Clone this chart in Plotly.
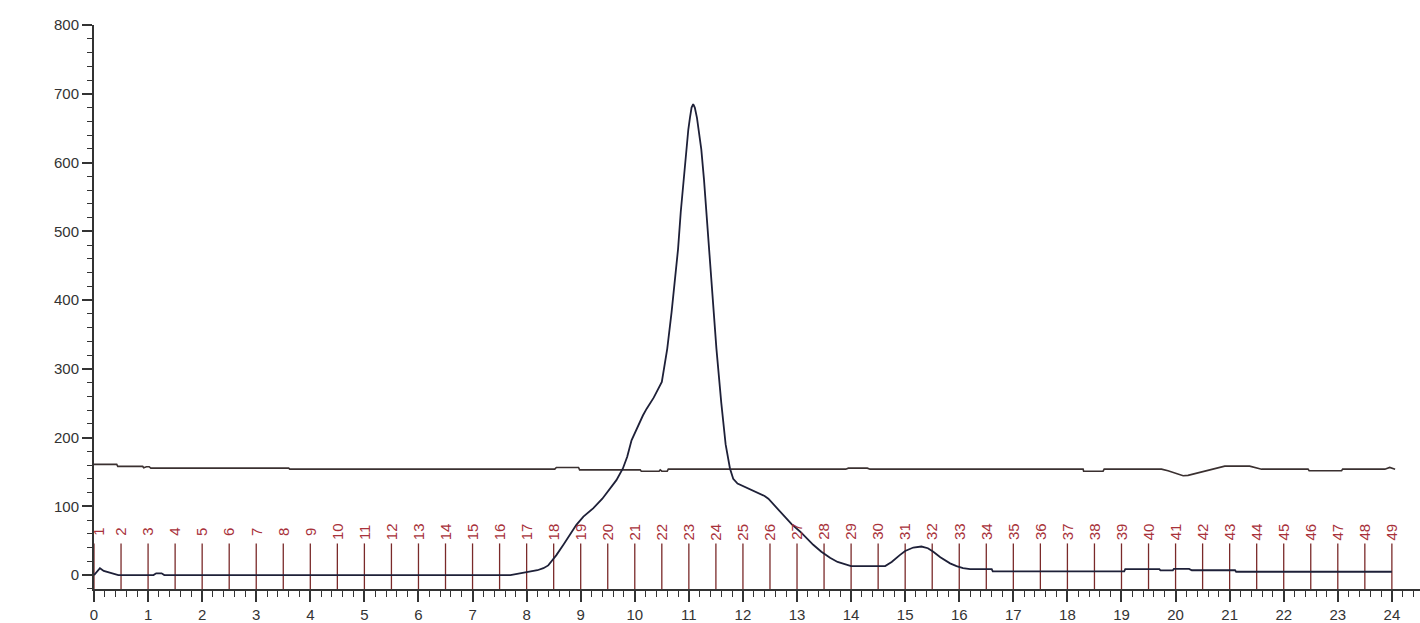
import plotly.graph_objects as go

# UV absorbance trace (mAU) vs elution volume (mL)
uv_x = [0, 0.05, 0.11, 0.18, 0.27, 0.36, 0.45, 1.1, 1.15, 1.25, 1.3, 7.7, 7.85, 8.0, 8.2, 8.31,
        8.4, 8.46, 8.55, 8.68, 8.8, 8.92, 9.05, 9.23, 9.4, 9.54, 9.66, 9.78, 9.86, 9.94, 10.06,
        10.15, 10.22, 10.35, 10.5, 10.55, 10.6, 10.68, 10.74, 10.8, 10.85, 10.9, 10.95, 10.99,
        11.02, 11.05, 11.08, 11.11, 11.15, 11.18, 11.23, 11.28, 11.37, 11.44, 11.51, 11.6,
        11.68, 11.76, 11.82, 11.9, 11.98, 12.08, 12.19, 12.3, 12.4, 12.47, 12.6, 12.75, 12.9,
        13.06, 13.18, 13.3, 13.45, 13.61, 13.75, 13.92, 14.0, 14.63, 14.75, 14.9, 15.0, 15.15,
        15.3, 15.42, 15.52, 15.65, 15.83, 15.95, 16.07, 16.2, 16.6, 16.62, 19.05, 19.07, 19.7,
        19.72, 19.95, 19.97, 20.25, 20.3, 21.1, 21.12, 24.0]
uv_y = [0, 5, 10, 6, 4, 1, 0, 0, 2.5, 2.5, 0, 0, 2, 4, 7, 10,
        14, 20, 29, 44, 59, 73, 85, 97, 111, 126, 138, 155, 172, 196, 218,
        232, 242, 258, 281, 303, 329, 382, 425, 474, 528, 575, 619, 648,
        665, 680, 685, 680, 665, 648, 619, 575, 474, 400, 329, 250,
        190, 155, 140, 133, 130, 127, 123, 119, 115, 111, 100, 87, 74,
        63, 53, 44, 34, 25, 19, 15, 13, 13, 19, 29, 35, 40,
        41.5, 39, 34, 26, 17, 13, 10, 8.7, 8.7, 5.3, 5.3, 8.7, 8.7,
        6.8, 6.8, 9, 9, 7, 7, 4.8, 4.8]

# Conductivity trace
cond_x = [0, 0.42, 0.44, 0.9, 0.92, 0.97, 1.02, 1.05, 3.6, 3.62, 8.52, 8.55, 8.96, 8.98,
          10.1, 10.12, 10.45, 10.47, 10.5, 10.6, 10.62, 13.9, 13.95, 14.3, 14.35, 18.29, 18.3,
          18.66, 18.68, 19.74, 19.86, 19.99, 20.14, 20.23, 20.45, 20.7, 20.91, 21.37, 21.59,
          22.45, 22.47, 23.07, 23.09, 23.87, 23.96, 24.06]
cond_y = [161, 161, 158, 158, 156, 157.5, 157.5, 155.5, 155.5, 154, 154, 156.5, 156.5, 153,
          153, 151, 151, 153, 151, 151, 154, 154, 155.5, 155.5, 154, 154, 151,
          151, 154, 154, 151.7, 148, 144.5, 145, 149, 154, 158.4, 158.4, 154,
          154, 151.7, 151.7, 154, 154, 156.5, 154]

# Fraction markers
frac_x = [0, 0.5, 1, 1.5, 2, 2.5, 3, 3.5, 4, 4.5, 5, 5.5, 6, 6.5, 7, 7.5, 8, 8.5, 9, 9.5,
          10, 10.5, 11, 11.5, 12, 12.5, 13, 13.5, 14, 14.5, 15, 15.5, 16, 16.5, 17, 17.5,
          18, 18.5, 19, 19.5, 20, 20.5, 21, 21.5, 22, 22.5, 23, 23.5, 24]
frac_labels = [str(i) for i in range(1, 50)]
frac_bottom = -20.3
frac_top = 46
frac_label_y = 63

x_tickvals = list(range(0, 25))
y_tickvals = [0, 100, 200, 300, 400, 500, 600, 700, 800]

FONT = "Liberation Sans Narrow, Arial Narrow, Liberation Sans, Arial, sans-serif"
MARK_COLOR = "#7a2a2a"
LABEL_COLOR = "#a8323a"

fig = go.Figure()

mx, my = [], []
for fx in frac_x:
    mx += [fx, fx, None]
    my += [frac_bottom, frac_top, None]
fig.add_trace(go.Scatter(x=mx, y=my, mode="lines",
                         line=dict(color=MARK_COLOR, width=1.3),
                         hoverinfo="skip", showlegend=False, cliponaxis=False))

fig.add_trace(go.Scatter(x=cond_x, y=cond_y, mode="lines",
                         line=dict(color="#3a3030", width=1.6), showlegend=False))
fig.add_trace(go.Scatter(x=uv_x, y=uv_y, mode="lines",
                         line=dict(color="#1e2038", width=1.8), showlegend=False))

for i, (fx, lab) in enumerate(zip(frac_x, frac_labels)):
    fig.add_annotation(x=fx, y=frac_label_y, xref="x", yref="y", text=lab,
                       showarrow=False, textangle=-90, xshift=(5 if i == 0 else 0),
                       font=dict(family="Liberation Sans, Arial, sans-serif", size=15,
                                 color=LABEL_COLOR))

fig.update_layout(
    width=1420, height=623,
    margin=dict(l=94, r=0, t=25, b=32),
    paper_bgcolor="white", plot_bgcolor="white",
    font=dict(family=FONT, size=15, color="#333333"),
    xaxis=dict(range=[0, 24.52], tickvals=x_tickvals, showgrid=False, zeroline=False,
               showline=True, linecolor="#333333", linewidth=2,
               ticks="outside", ticklen=11, tickwidth=1.5, tickcolor="#333333",
               minor=dict(dtick=0.2, tick0=0, ticks="outside", ticklen=6, tickwidth=1.3,
                          tickcolor="#333333", showgrid=False),
               tickfont=dict(family=FONT, size=15, color="#333333")),
    yaxis=dict(range=[-20.3, 800], tickvals=y_tickvals, showgrid=False, zeroline=False,
               showline=True, linecolor="#333333", linewidth=2,
               ticks="outside", ticklen=10, tickwidth=1.5, tickcolor="#333333",
               minor=dict(dtick=20, tick0=0, ticks="outside", ticklen=5, tickwidth=1.3,
                          tickcolor="#333333", showgrid=False),
               tickfont=dict(family=FONT, size=15, color="#333333")),
)

fig.write_html("out.html")
